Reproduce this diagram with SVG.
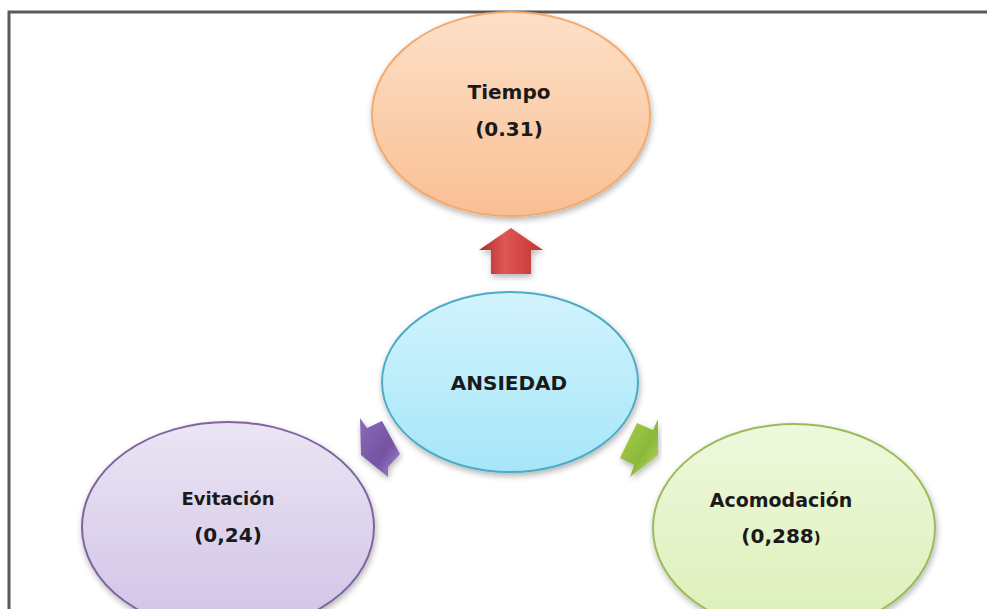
<svg xmlns="http://www.w3.org/2000/svg" width="987" height="609" viewBox="0 0 987 609">
<defs>
<linearGradient id="gT" x1="0" y1="0" x2="0" y2="1"><stop offset="0" stop-color="#fde0c8"/><stop offset="1" stop-color="#f9bf93"/></linearGradient>
<linearGradient id="gA" x1="0" y1="0" x2="0" y2="1"><stop offset="0" stop-color="#d2f3fd"/><stop offset="1" stop-color="#a6e6f8"/></linearGradient>
<linearGradient id="gE" x1="0" y1="0" x2="0" y2="1"><stop offset="0" stop-color="#ebe5f4"/><stop offset="1" stop-color="#d0c3e6"/></linearGradient>
<linearGradient id="gC" x1="0" y1="0" x2="0" y2="1"><stop offset="0" stop-color="#eef8dc"/><stop offset="1" stop-color="#dcf0b8"/></linearGradient>
<linearGradient id="aR" x1="0" y1="0" x2="1" y2="0"><stop offset="0" stop-color="#b02a2a"/><stop offset="0.4" stop-color="#e05555"/><stop offset="1" stop-color="#c03535"/></linearGradient>
<linearGradient id="aP" x1="0" y1="0" x2="1" y2="1"><stop offset="0" stop-color="#8a6cb8"/><stop offset="0.6" stop-color="#7453a3"/><stop offset="1" stop-color="#a58bd0"/></linearGradient>
<linearGradient id="aG" x1="0" y1="0" x2="1" y2="1"><stop offset="0" stop-color="#a8d050"/><stop offset="0.6" stop-color="#8cb83a"/><stop offset="1" stop-color="#b8dc6a"/></linearGradient>
<filter id="sh" x="-10%" y="-10%" width="120%" height="125%"><feGaussianBlur in="SourceAlpha" stdDeviation="3"/><feOffset dx="1" dy="3"/><feComponentTransfer><feFuncA type="linear" slope="0.3"/></feComponentTransfer><feMerge><feMergeNode/><feMergeNode in="SourceGraphic"/></feMerge></filter>
</defs>
<style>
text{font-family:"DejaVu Sans","Liberation Sans",sans-serif;font-weight:bold;fill:#1a1a1a;text-anchor:middle}
.el{stroke-width:2;filter:url(#sh)}
</style>
<rect x="0" y="0" width="987" height="609" fill="#ffffff"/>
<rect x="9" y="12" width="990" height="610" fill="none" stroke="#5a5a5a" stroke-width="3"/>
<g id="connectors">
<path d="M511,228 L479,250 L491,250 L491,274 L531,274 L531,250 L543,250 Z" fill="url(#aR)" filter="url(#sh)"/>
<path d="M360,418 L367,428 L382,421 L400,454 L388,467 L388,477 L361,455 Z" fill="url(#aP)" filter="url(#sh)"/>
<path d="M637,423 L653,430 L658,419 L658,455 L630,477 L634,465 L620,458 Z" fill="url(#aG)" filter="url(#sh)"/>
</g>
<g id="tiempo">
<ellipse class="el" cx="511" cy="114" rx="139" ry="102" fill="url(#gT)" stroke="#f4a96d"/>
<text x="509" y="99" font-size="20">Tiempo</text>
<text x="509" y="136" font-size="20">(0.31)</text>
</g>
<g id="ansiedad">
<ellipse class="el" cx="510" cy="382" rx="128" ry="90" fill="url(#gA)" stroke="#4bacc6"/>
<text x="509" y="390" font-size="20">ANSIEDAD</text>
</g>
<g id="evitacion">
<ellipse class="el" cx="228" cy="527" rx="146" ry="105" fill="url(#gE)" stroke="#8064a2"/>
<text x="228" y="505" font-size="18">Evitación</text>
<text x="228" y="542" font-size="20">(0,24)</text>
</g>
<g id="acomodacion">
<ellipse class="el" cx="794" cy="528" rx="141" ry="104" fill="url(#gC)" stroke="#9bbb59"/>
<text x="781" y="507" font-size="19">Acomodación</text>
<text x="781" y="543" font-size="20">(0,288<tspan font-size="15">)</tspan></text>
</g>
</svg>
